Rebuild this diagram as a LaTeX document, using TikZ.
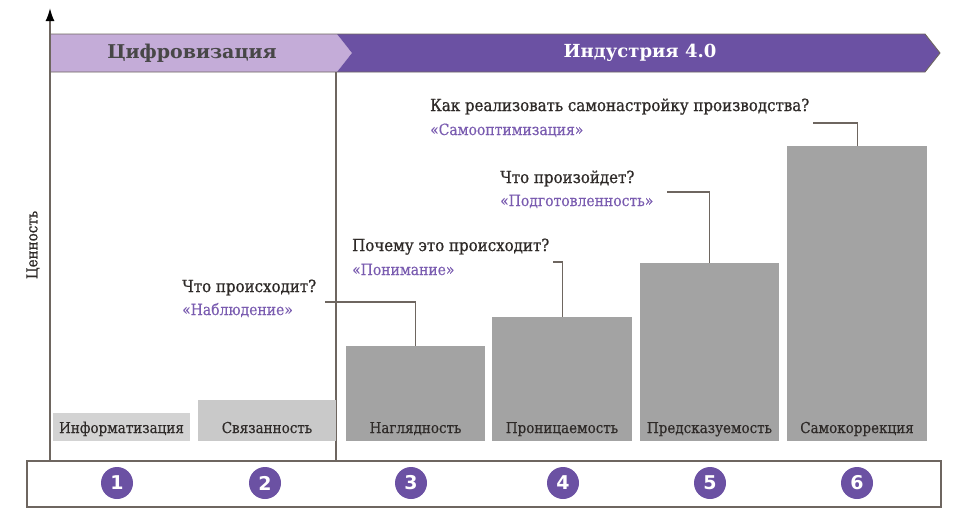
\documentclass[tikz,border=0pt]{standalone}
\usepackage{fontspec}
\setmainfont{DejaVu Serif}
\newfontfamily\cond{DejaVu Serif}[FakeStretch=0.9, FakeBold=0.35]
\newfontfamily\condb{DejaVu Serif}[FakeStretch=0.9, FakeBold=0.9]
\newfontfamily\numfont{DejaVu Sans}
\usetikzlibrary{arrows.meta}
\definecolor{lpurple}{HTML}{C4ACD8}
\definecolor{dpurple}{HTML}{6B51A3}
\definecolor{qpurple}{HTML}{7A5CB0}
\definecolor{lgray}{HTML}{6E6660}
\definecolor{barA}{HTML}{D3D3D3}
\definecolor{barB}{HTML}{C9C9C9}
\definecolor{barC}{HTML}{A3A3A3}
\definecolor{txt}{HTML}{2E2A28}
\tikzset{
  barbox/.style={rectangle, draw=none, inner sep=0, anchor=south west},
  barlabel/.style={anchor=base, font=\cond\fontsize{15}{17}\selectfont, text=txt, inner sep=0},
  qline/.style={anchor=base west, inner sep=0, font=\condb\fontsize{16.7}{18}\selectfont, text=txt},
  aline/.style={anchor=base west, inner sep=0, font=\cond\fontsize{15.5}{17}\selectfont, text=qpurple},
  conn/.style={draw=lgray, line width=1.2pt},
  numc/.style={circle, fill=dpurple, minimum size=32pt, inner sep=0, text=white, font=\numfont\bfseries\fontsize{19}{19}\selectfont},
}
\begin{document}
\begin{tikzpicture}[x=1pt,y=-1pt]
\useasboundingbox (0,0) rectangle (953,523);
% banner
\fill[lpurple] (50,34) -- (337,34) -- (352,53) -- (337,72) -- (50,72) -- cycle;
\fill[dpurple] (337,34) -- (925,34) -- (940,53) -- (925,72) -- (337,72) -- (352,53) -- cycle;
\draw[lgray, line width=0.9pt] (50,34) -- (925,34) -- (940,53) -- (925,72) -- (50,72);
\node[font=\bfseries\fontsize{19}{21}\selectfont, text=black!72] (dig) at (192,53) {Цифровизация};
\node[font=\bfseries\fontsize{18}{20}\selectfont, text=white] (ind) at (640,53) {Индустрия 4.0};
% axis and divider
\coordinate (axb) at (50,460);
\coordinate (axt) at (50,8);
\draw[lgray, line width=1.8pt, -{Latex[length=13pt,width=9pt,black]}] (axb) -- (axt);
\coordinate (dvt) at (336,72);
\coordinate (dvb) at (336,460);
\draw[lgray, line width=1.8pt] (dvt) -- (dvb);
\node[rotate=90, font=\condb\fontsize{15}{17}\selectfont, text=txt] (val) at (33,245) {Ценность};
% bars
\node[barbox, fill=barA, minimum width=137pt, minimum height=28pt] (b1) at (53,441) {};
\node[barbox, fill=barB, minimum width=138pt, minimum height=41pt] (b2) at (198,441) {};
\node[barbox, fill=barC, minimum width=139pt, minimum height=95pt] (b3) at (346,441) {};
\node[barbox, fill=barC, minimum width=140pt, minimum height=124pt] (b4) at (492,441) {};
\node[barbox, fill=barC, minimum width=139pt, minimum height=178pt] (b5) at (640,441) {};
\node[barbox, fill=barC, minimum width=140pt, minimum height=295pt] (b6) at (787,441) {};
\node[barlabel] (l1) at (121.5,433) {Информатизация};
\node[barlabel] (l2) at (267,433) {Связанность};
\node[barlabel] (l3) at (415.5,433) {Наглядность};
\node[barlabel] (l4) at (562,433) {Проницаемость};
\node[barlabel] (l5) at (709.5,433) {Предсказуемость};
\node[barlabel] (l6) at (857,433) {Самокоррекция};
% bottom box
\node[draw=lgray, line width=1.5pt, rectangle, inner sep=0, minimum width=914pt, minimum height=46pt, anchor=north west] (base) at (26,460) {};
\node[numc] (n1) at (117,483) {1};
\node[numc] (n2) at (265,483) {2};
\node[numc] (n3) at (411,483) {3};
\node[numc] (n4) at (563,483) {4};
\node[numc] (n5) at (710,483) {5};
\node[numc] (n6) at (857,483) {6};
% questions
\node[qline] (q1) at (182,292) {Что происходит?};
\node[aline] (a1) at (182,315) {«Наблюдение»};
\node[qline] (q2) at (352,251) {Почему это происходит?};
\node[aline] (a2) at (352,275) {«Понимание»};
\node[qline] (q3) at (500,183) {Что произойдет?};
\node[aline] (a3) at (500,206) {«Подготовленность»};
\node[qline] (q4) at (430,111) {Как реализовать самонастройку производства?};
\node[aline] (a4) at (430,135) {«Самооптимизация»};
\coordinate (c1) at (325,302);
\coordinate (c2) at (553,262);
\coordinate (c3) at (667,192);
\coordinate (c4) at (813,123);
\draw[conn] (c1) -| (b3.north);
\draw[conn] (c2) -| (b4.north);
\draw[conn] (c3) -| (b5.north);
\draw[conn] (c4) -| (b6.north);
\end{tikzpicture}
\end{document}
